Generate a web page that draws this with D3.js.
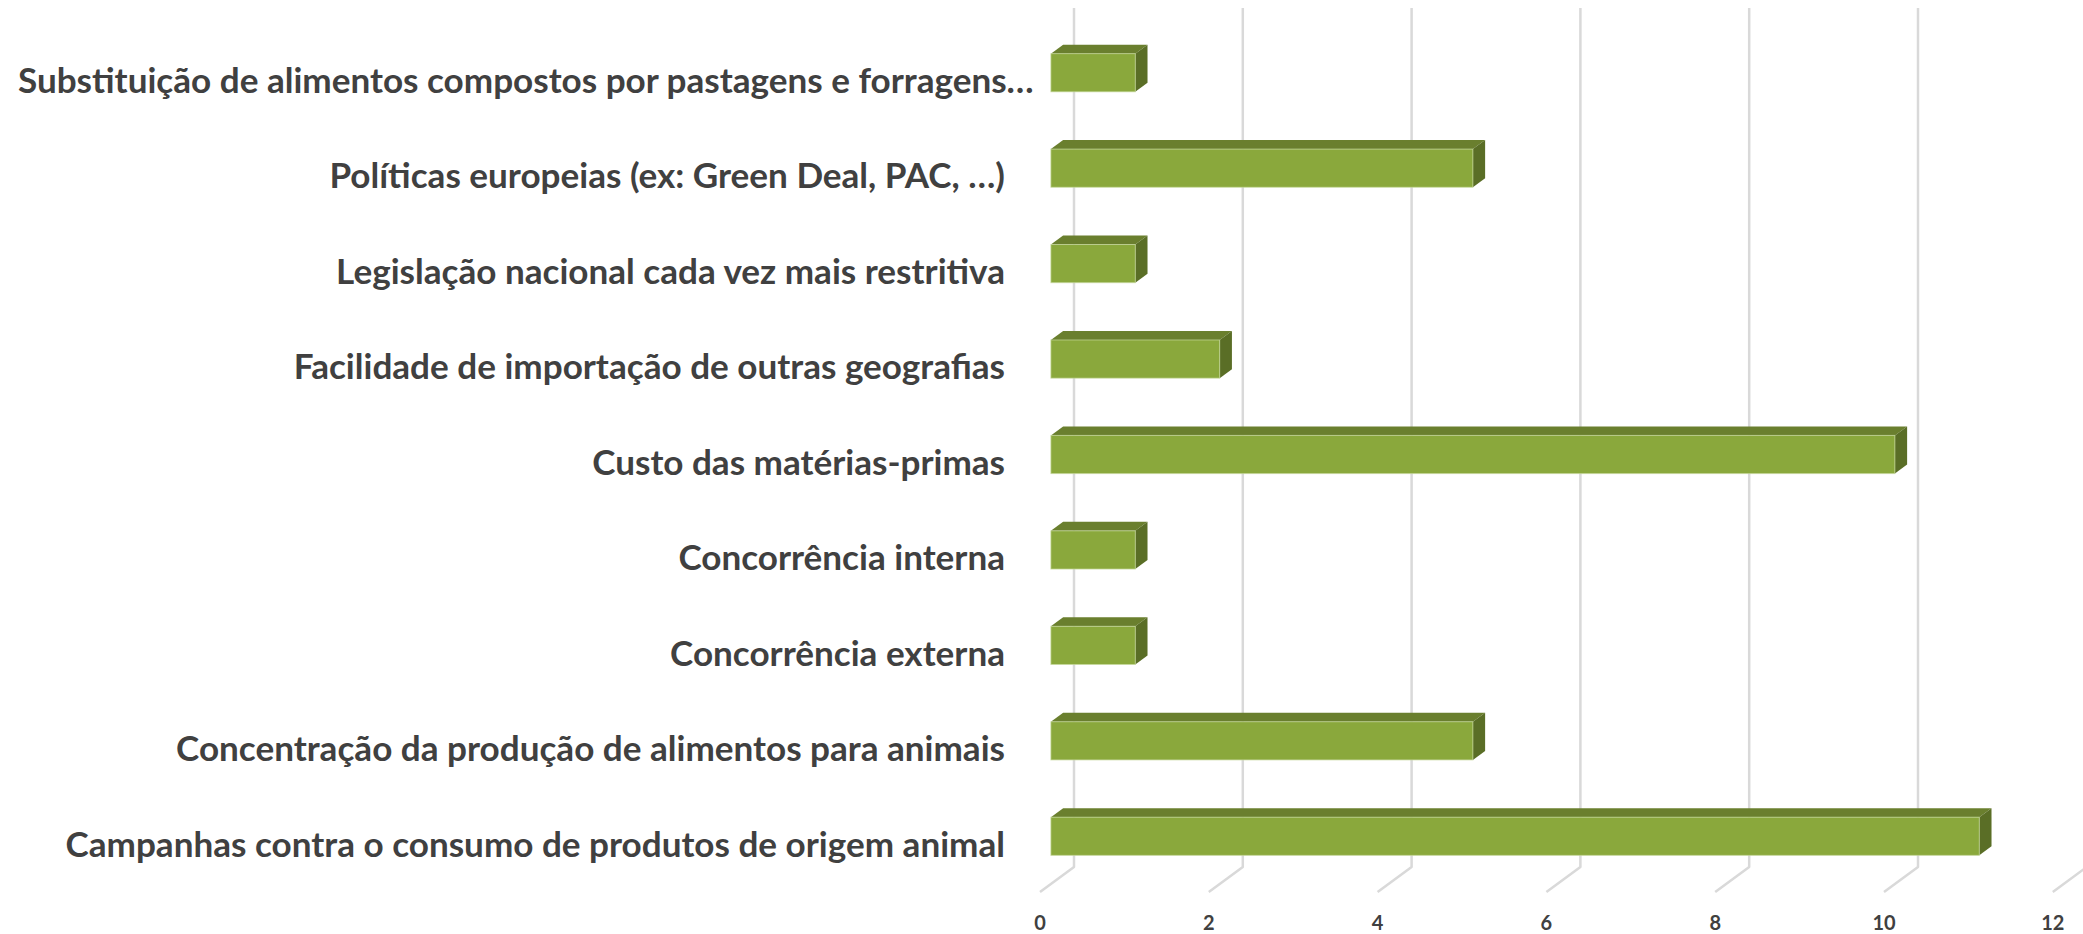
<!DOCTYPE html>
<html>
<head>
<meta charset="utf-8">
<script src="https://cdn.jsdelivr.net/npm/d3@7"></script>
<style>
  html, body { margin: 0; padding: 0; background: #ffffff; overflow: hidden; }
  svg { display: block; }
</style>
</head>
<body>
<svg id="chart" width="2083" height="934"></svg>
<script>
// Factors, listed top to bottom
const categories = [
  "Substituição de alimentos compostos por pastagens e forragens…",
  "Políticas europeias (ex: Green Deal, PAC, …)",
  "Legislação nacional cada vez mais restritiva",
  "Facilidade de importação de outras geografias",
  "Custo das matérias-primas",
  "Concorrência interna",
  "Concorrência externa",
  "Concentração da produção de alimentos para animais",
  "Campanhas contra o consumo de produtos de origem animal"
];
const values = [1, 5, 1, 2, 10, 1, 1, 5, 11];
const tickValues = [0, 2, 4, 6, 8, 10, 12];
const tickLabels = ["0", "2", "4", "6", "8", "10", "12"];

const W = 2083, H = 934;
const FONT = "Lato, 'Open Sans', sans-serif";
const TEXT = "#404040";

// 3D box: back wall plane + oblique depth vector toward the viewer
const backX0 = 1074, backX1 = 1074 + 12 * 84.4;
const yTop = 8, yFloor = 867;
const depth = { dx: -34, dy: 25 };
const barFar = 0.32, barNear = 0.68;   // bar depth slice (fraction of box depth)

const x = d3.scaleLinear().domain([0, 12]).range([backX0, backX1]);
const y = d3.scaleBand().domain(categories).range([yTop, yFloor])
  .paddingInner(0.6).paddingOuter(0.3);
const bw = y.bandwidth();

const P = (v, yy, f) => [x(v) + f * depth.dx, yy + f * depth.dy];

const svg = d3.select("#chart");

function draw() {
  // gridlines on the back wall, folding forward onto the floor
  const grid = svg.append("g").attr("class", "grid");
  grid.selectAll("path").data(tickValues).join("path")
    .attr("d", t => {
      const xb = x(t);
      return `M${xb},${yTop}L${xb},${yFloor}L${xb + depth.dx},${yFloor + depth.dy}`;
    })
    .attr("fill", "none")
    .attr("stroke", "#d9d9d9")
    .attr("stroke-width", 2.5)
    .attr("stroke-linejoin", "round");

  // value axis labels along the front edge of the floor
  svg.append("g").attr("class", "x-axis")
    .selectAll("text").data(tickValues).join("text")
    .attr("x", t => x(t) + depth.dx)
    .attr("y", 930)
    .attr("text-anchor", "middle")
    .attr("font-family", FONT)
    .attr("font-weight", 700)
    .attr("font-size", 20)
    .attr("fill", TEXT)
    .text((t, i) => tickLabels[i]);

  // 3D bars
  const bars = svg.append("g").attr("class", "bars")
    .selectAll("g").data(categories.map((c, i) => ({ c, v: values[i] }))).join("g");

  bars.append("polygon") // top face
    .attr("points", d => {
      const y0 = y(d.c);
      return [P(0, y0, barFar), P(d.v, y0, barFar), P(d.v, y0, barNear), P(0, y0, barNear)].join(" ");
    })
    .attr("fill", "#6a7f2e");

  bars.append("polygon") // end face
    .attr("points", d => {
      const y0 = y(d.c), y1 = y0 + bw;
      return [P(d.v, y0, barFar), P(d.v, y0, barNear), P(d.v, y1, barNear), P(d.v, y1, barFar)].join(" ");
    })
    .attr("fill", "#5a6e26");

  bars.append("rect") // front face
    .attr("x", d => P(0, 0, barNear)[0])
    .attr("y", d => P(0, y(d.c), barNear)[1])
    .attr("width", d => x(d.v) - x(0))
    .attr("height", bw)
    .attr("fill", "#8aa83c")
    .attr("stroke", "#c6d89c")
    .attr("stroke-width", 1)
    .attr("stroke-opacity", 0.7);

  // category labels, measured so the longest regular label fits its column
  const labelRight = 1005, leftMargin = 18;
  const probe = svg.append("text")
    .attr("font-family", FONT).attr("font-weight", 700).attr("font-size", 100)
    .text(categories[categories.length - 1]);
  const fs = 100 * 940 / probe.node().getComputedTextLength();
  probe.remove();

  const labels = svg.append("g").attr("class", "y-axis")
    .selectAll("text").data(categories).join("text")
    .attr("font-family", FONT)
    .attr("font-weight", 700)
    .attr("font-size", fs)
    .attr("fill", TEXT)
    .attr("y", c => y(c) + bw / 2 + depth.dy + 0.35 * fs)
    .text(c => c);

  labels.each(function () {
    const t = d3.select(this);
    const w = this.getComputedTextLength();
    if (labelRight - w < leftMargin) {
      t.attr("x", leftMargin).attr("text-anchor", "start");
    } else {
      t.attr("x", labelRight).attr("text-anchor", "end");
    }
  });
}

if (document.fonts && document.fonts.ready) {
  document.fonts.ready.then(draw);
} else {
  draw();
}
</script>
</body>
</html>
